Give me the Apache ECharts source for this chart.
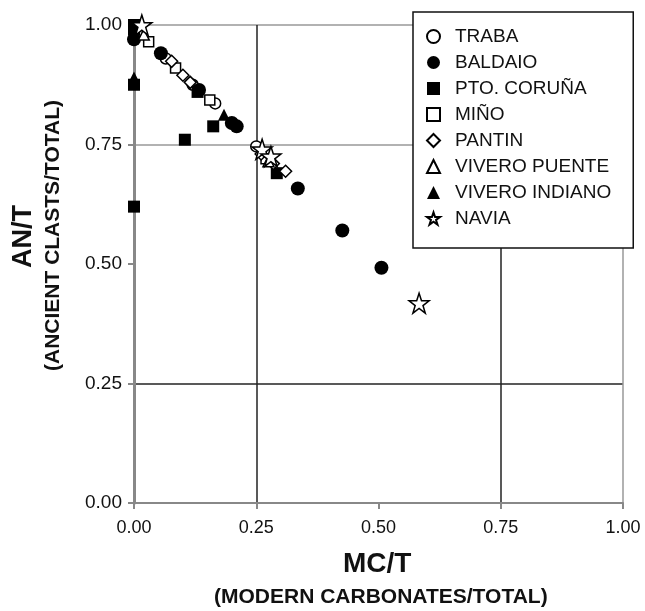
<!DOCTYPE html>
<html>
<head>
<meta charset="utf-8">
<script src="https://cdn.jsdelivr.net/npm/echarts@6/dist/echarts.min.js"></script>
<style>
  html, body { margin: 0; padding: 0; background: #fff; }
  #main { width: 645px; height: 611px; }
</style>
</head>
<body>
<div id="main"></div>
<script>
// 各站点数据 [MC/T, AN/T]
var traba = [[0.065, 0.93], [0.12, 0.875], [0.166, 0.836], [0.25, 0.746]];
var baldaio = [[0.0, 0.97], [0.055, 0.941], [0.133, 0.864], [0.2, 0.795], [0.21, 0.788],
               [0.335, 0.658], [0.426, 0.57], [0.506, 0.492]];
var ptoCoruna = [[0.0, 1.0], [0.0, 0.99], [0.0, 0.875], [0.0, 0.62], [0.13, 0.86],
                 [0.104, 0.76], [0.162, 0.788], [0.292, 0.69]];
var mino = [[0.03, 0.965], [0.085, 0.91], [0.155, 0.843], [0.27, 0.72]];
var pantin = [[0.077, 0.924], [0.1, 0.895], [0.115, 0.88], [0.26, 0.73], [0.285, 0.71], [0.31, 0.694]];
var viveroPuente = [[0.02, 0.98], [0.275, 0.715]];
var viveroIndiano = [[0.0, 0.89], [0.184, 0.812]];
var navia = [[0.016, 1.0], [0.262, 0.74], [0.28, 0.725], [0.583, 0.418]];

var names = ['TRABA', 'BALDAIO', 'PTO. CORUÑA', 'MIÑO', 'PANTIN', 'VIVERO PUENTE', 'VIVERO INDIANO', 'NAVIA'];

var star = 'path://M50,0 L61.8,35.1 L98.9,35.1 L69.1,56.9 L80.3,91.9 L50,70.3 L19.7,91.9 L30.9,56.9 L1.1,35.1 L38.2,35.1 Z';

var openStyle = { color: '#fff', borderColor: '#000', borderWidth: 1.5, opacity: 1 };
var fillStyle = { color: '#000', opacity: 1 };

var myChart = echarts.init(document.getElementById('main'));

var font = 'Liberation Sans, Arial, sans-serif';

var option = {
    backgroundColor: '#fff',
    animation: false,
    grid: { left: 134, right: 22, top: 25, bottom: 108 },
    xAxis: {
        type: 'value', min: 0, max: 1, interval: 0.25,
        axisLine: { show: true, lineStyle: { color: '#888', width: 2 } },
        axisTick: { show: true, length: 6, lineStyle: { color: '#888', width: 2 } },
        axisLabel: { margin: 16, fontSize: 18, color: '#111', fontFamily: font,
                     formatter: function (v) { return v.toFixed(2); } },
        splitLine: { show: true, lineStyle: { color: ['#999', '#222', 'rgba(0,0,0,0)', '#222', '#999'], width: 1.5 } }
    },
    yAxis: {
        type: 'value', min: 0, max: 1, interval: 0.25,
        axisLine: { show: true, lineStyle: { color: '#888', width: 3 } },
        axisTick: { show: true, length: 6, lineStyle: { color: '#888', width: 2 } },
        axisLabel: { margin: 12, fontSize: 19, color: '#111', fontFamily: font,
                     formatter: function (v) { return v.toFixed(2); } },
        splitLine: { show: true, lineStyle: { color: ['#999', '#222', 'rgba(0,0,0,0)', '#999', '#999'], width: 1.5 } }
    },
    legend: {
        orient: 'vertical',
        left: 413, top: 12,
        data: names,
        backgroundColor: '#fff',
        borderColor: '#111',
        borderWidth: 1.5,
        padding: [15, 22, 20, 13],
        itemWidth: 13, itemHeight: 13,
        itemGap: 7,
        textStyle: { fontSize: 19, color: '#111', fontFamily: font, padding: [0, 0, 0, 10] }
    },
    graphic: [
        { type: 'text', left: 10, top: 205, rotation: Math.PI / 2,
          style: { text: 'AN/T', font: 'bold 27px ' + font, fill: '#111' } },
        { type: 'text', left: 43, top: 100, rotation: Math.PI / 2,
          style: { text: '(ANCIENT CLASTS/TOTAL)', font: 'bold 21px ' + font, fill: '#111' } },
        { type: 'text', left: 343, top: 550,
          style: { text: 'MC/T', font: 'bold 28px ' + font, fill: '#111' } },
        { type: 'text', left: 214, top: 587,
          style: { text: '(MODERN CARBONATES/TOTAL)', font: 'bold 21px ' + font, fill: '#111' } }
    ],
    series: [
        { name: 'TRABA', type: 'scatter', symbol: 'circle', symbolSize: 11, data: traba, itemStyle: openStyle },
        { name: 'BALDAIO', type: 'scatter', symbol: 'circle', symbolSize: 14, data: baldaio, itemStyle: fillStyle },
        { name: 'PTO. CORUÑA', type: 'scatter', symbol: 'rect', symbolSize: 12, data: ptoCoruna, itemStyle: fillStyle },
        { name: 'MIÑO', type: 'scatter', symbol: 'rect', symbolSize: 10, data: mino, itemStyle: openStyle },
        { name: 'PANTIN', type: 'scatter', symbol: 'diamond', symbolSize: 12, data: pantin, itemStyle: openStyle },
        { name: 'VIVERO PUENTE', type: 'scatter', symbol: 'triangle', symbolSize: 11, data: viveroPuente, itemStyle: openStyle },
        { name: 'VIVERO INDIANO', type: 'scatter', symbol: 'triangle', symbolSize: 12, data: viveroIndiano, itemStyle: fillStyle },
        { name: 'NAVIA', type: 'scatter', symbol: star, symbolSize: 20, data: navia, itemStyle: openStyle }
    ]
};

myChart.setOption(option);
</script>
</body>
</html>
